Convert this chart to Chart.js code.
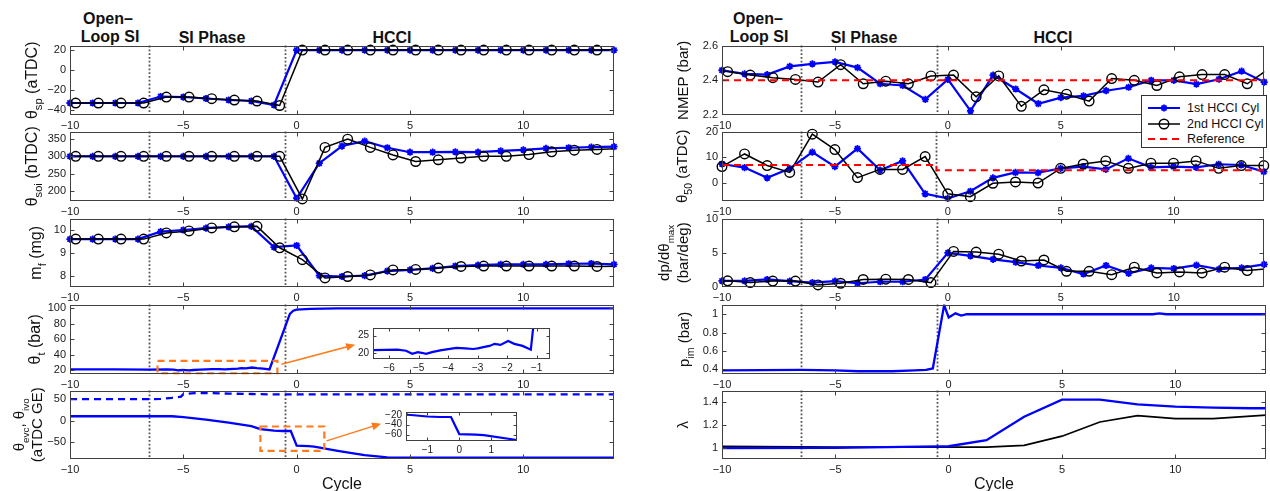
<!DOCTYPE html>
<html><head><meta charset="utf-8">
<script src="https://cdn.jsdelivr.net/npm/chart.js@4.4.1/dist/chart.umd.min.js"></script>
<style>
html,body{margin:0;padding:0;background:#fff;}
body{width:1270px;height:491px;overflow:hidden;position:relative;font-family:"Liberation Sans",Arial,Helvetica,sans-serif;color:#111}
canvas{position:absolute}
.hdr{position:absolute;font-weight:bold;font-size:16px;line-height:1;white-space:nowrap;transform:translate(-50%,-50%)}
#legend{position:absolute;left:1141px;top:95px;width:124px;height:51px;background:#fff;border:1px solid #333;z-index:10;font-size:12.5px}
#legend .row{position:absolute;left:0;height:16px;width:100%}
#legend svg{position:absolute;left:4px;top:0}
#legend span{position:absolute;left:45px;top:0;line-height:16px;white-space:nowrap}
</style></head><body>
<div class="hdr" style="left:108px;top:19px">Open–</div>
<div class="hdr" style="left:110px;top:37px">Loop SI</div>
<div class="hdr" style="left:212px;top:38px">SI Phase</div>
<div class="hdr" style="left:392px;top:38px">HCCI</div>
<div class="hdr" style="left:758px;top:19px">Open–</div>
<div class="hdr" style="left:759px;top:37px">Loop SI</div>
<div class="hdr" style="left:864px;top:38px">SI Phase</div>
<div class="hdr" style="left:1053px;top:38px">HCCI</div>
<div id="legend">
 <div class="row" style="top:4px"><svg width="38" height="16"><line x1="2" y1="8" x2="34" y2="8" stroke="#0000ff" stroke-width="2"/><g stroke="#0000ff" stroke-width="1.8"><line x1="14.5" y1="8" x2="21.5" y2="8"/><line x1="18" y1="4.5" x2="18" y2="11.5"/><line x1="15.5" y1="5.5" x2="20.5" y2="10.5"/><line x1="15.5" y1="10.5" x2="20.5" y2="5.5"/></g></svg><span>1st HCCI Cyl</span></div>
 <div class="row" style="top:20px"><svg width="38" height="16"><line x1="2" y1="8" x2="34" y2="8" stroke="#000" stroke-width="1.5"/><circle cx="18" cy="8" r="4.8" stroke="#000" stroke-width="1.4" fill="none"/></svg><span>2nd HCCI Cyl</span></div>
 <div class="row" style="top:35px"><svg width="38" height="16"><line x1="2" y1="8" x2="34" y2="8" stroke="#ff0000" stroke-width="2" stroke-dasharray="7,5"/></svg><span>Reference</span></div>
</div>
<script>
// ---------------- DATA ----------------
const cycleTicks = [-10, -5, 0, 5, 10];
const phaseBounds = [-6.5, -0.5];
// cycle positions of the two HCCI cylinders
const cyc1 = [-10,-9,-8,-7,-6,-5,-4,-3,-2,-1,0,1,2,3,4,5,6,7,8,9,10,11,12,13,14];
const cyc2 = [-10.75,-9.75,-8.75,-7.75,-6.75,-5.75,-4.75,-3.75,-2.75,-1.75,-0.75,0.25,1.25,2.25,3.25,4.25,5.25,6.25,7.25,8.25,9.25,10.25,11.25,12.25,13.25,14.25];

// spark timing theta_sp (aTDC)
const sp1 = [-33,-33,-33,-33,-26.5,-27,-28.5,-30,-31,-35,20,20,20,20,20,20,20,20,20,20,20,20,20,20,20];
const sp2 = [-33,-33,-33,-33,-33,-27,-27,-28.7,-30,-31,-35.5,20,20,20,20,20,20,20,20,20,20,20,20,20,20,20];
// start of injection theta_soi (bTDC)
const soi1 = [300,300,300,300,300,300,300,300,300,300,178,280,330,344,325,312,312,313,312,316,319,323,325,327,328];
const soi2 = [300,300,300,300,300,300,300,300,300,300,300,176,326,350,326,304,285,290,295,300,300,305,313,318,320,323];
// fuel mass m_f (mg)
const mf1 = [9.6,9.6,9.6,9.6,9.93,10.0,10.08,10.14,10.16,9.25,9.32,8.0,7.96,8.0,8.2,8.25,8.32,8.42,8.46,8.49,8.49,8.49,8.52,8.53,8.49];
const mf2 = [9.6,9.6,9.6,9.6,9.6,9.87,9.96,10.09,10.14,10.16,9.22,8.7,7.9,7.96,8.03,8.25,8.27,8.33,8.4,8.42,8.42,8.42,8.42,8.42,8.4,8.42];
// throttle theta_t (bar)
const thtX = [-10,-8,-6.55,-5.72,-5.43,-5.22,-5.03,-4.9,-4.75,-4.55,-4.27,-4.0,-3.72,-3.43,-3.15,-3.0,-2.77,-2.6,-2.43,-2.23,-1.97,-1.76,-1.48,-1.2,-0.3,-0.15,0,0.6,1.8,5,10,14];
const thtY = [21,21,20.8,20.9,20.6,19.7,20.2,20.0,19.7,20.2,20.7,21.05,21.4,21.3,21.1,21.3,21.7,22.0,22.6,22.3,23.4,22.6,22.0,20.9,93,97,98.5,99.5,100,100,100,100];
// valve timings (aTDC GE)
const ivoX = [-10,-6.5,-6,-5.5,-5.1,-5.0,-4.5,-4,-3,-2,-1,0,14];
const ivoY = [50,50,50.5,53,56,62,64,64.5,63,62,61,61,61];
const evcX = [-10,-5.5,-5,-4,-3,-2,-1.6,-1.0,-0.62,-0.26,0,0.52,0.77,1.75,2.5,3,4,5,14];
const evcY = [10,10,8,2,-5,-13,-20,-23.5,-24.5,-24.5,-59,-60,-61,-70.5,-77,-81,-86,-87,-87];

// NMEP (bar)
const nmep1 = [2.458,2.437,2.433,2.48,2.495,2.506,2.473,2.38,2.37,2.29,2.405,2.224,2.43,2.35,2.265,2.30,2.31,2.34,2.36,2.40,2.40,2.378,2.406,2.453,2.39];
const nmep2 = [2.46,2.45,2.43,2.415,2.405,2.39,2.49,2.38,2.395,2.38,2.425,2.43,2.305,2.425,2.25,2.345,2.32,2.28,2.41,2.40,2.37,2.42,2.433,2.433,2.38,2.47];
const nmepRefX = [-10,14];
const nmepRefY = [2.4,2.4];
// CA50 theta_50 (aTDC)
const ca50_1 = [7.4,6,2,5.6,12,6.4,13.4,5,8.6,-4.2,-6,-3.2,2,4.1,4,5.7,6.4,5.3,9.6,6.1,6.4,6.1,7.3,7,4.4];
const ca50_2 = [6.4,11.3,6.8,4.1,19,13,2.1,5.3,5.3,10.3,-4.2,-5.3,-0.1,0.4,0,5.7,7.4,8.6,5.7,7.7,7.7,8.6,5.7,6.8,6.8];
const ca50RefX = [-10,-0.5,-0.5,14];
const ca50RefY = [7,7,5,5];
// max pressure rise rate (bar/deg)
const dp1 = [0.9,0.9,1.1,0.86,0.64,0.86,0.55,0.77,0.77,1.1,5,4.55,4.05,3.64,3.14,2.8,1.9,3.14,2.0,2.8,2.7,3.2,2.6,2.8,3.3];
const dp2 = [0.9,0.9,0.64,0.86,0.86,0.3,0.55,1.1,1.14,1.1,0.64,5.2,5.1,4.8,3.8,3.95,2.3,2.3,1.8,2.9,2.05,2.2,2.05,2.9,2.4,2.7];
// intake manifold pressure (bar)
const pimX = [-10,-6.5,-5,-4,-2.5,-1.5,-1,-0.7,-0.2,0,0.3,0.55,0.8,3,6,9,9.3,9.6,12,14];
const pimY = [0.39,0.395,0.39,0.38,0.38,0.39,0.395,0.41,1.1,0.965,1.01,0.985,1.0,1.0,1.0,1.0,1.01,1.0,1.0,1.0];
// lambda
const lamX1 = [-10,-5,-0.5,0,1.67,3.33,5,6.67,8.33,10,11.67,13.33,14];
const lamY1 = [0.995,0.998,1.01,1.012,1.065,1.27,1.42,1.42,1.38,1.36,1.35,1.345,1.345];
const lamX2 = [-10,-5,0,1.67,3.33,5,6.67,8.33,10,11.67,14];
const lamY2 = [1.01,1.005,1.005,1.005,1.02,1.1,1.225,1.28,1.255,1.255,1.285];

// ---------------- STYLE / HELPERS ----------------
const BLUE='#0000ff', BLACK='#000000', RED='#ff0000', ORANGE='#ff7a1a', FRAME='#404040';
const FONT='"Liberation Sans", Arial, Helvetica, sans-serif';
Chart.defaults.font.family = FONT;
Chart.defaults.color = '#1a1a1a';
const fmt = v => String(Math.round(v*1000)/1000).replace('-', '\u2212');
const zip = (xs, ys) => xs.map((x, i) => ({x, y: ys[i]}));
function inR(c){ const r=c.raw; if(!r) return false; const o=c.chart.options.scales.x; return r.x>=o.min-1e-6 && r.x<=o.max+1e-6; }
function cyl(xs, ys, which){
  const pts = zip(xs, ys);
  if (which === 1) return [
    {data:pts, borderColor:BLUE, borderWidth:2.2, pointRadius:0, order:3},
    {data:pts, showLine:false, pointStyle:'star', pointRadius:c=>inR(c)?3.6:0, pointBorderWidth:1.8, pointBorderColor:BLUE, pointBackgroundColor:BLUE, clip:8, order:2}];
  return [
    {data:pts, borderColor:BLACK, borderWidth:1.5, pointRadius:0, order:1},
    {data:pts, showLine:false, pointStyle:'circle', pointRadius:c=>inR(c)?4.8:0, pointBorderWidth:1.4, pointBorderColor:BLACK, pointBackgroundColor:'rgba(0,0,0,0)', clip:8, order:0}];
}
function line(xs, ys, color, w, dash, order){
  return {data:zip(xs,ys), borderColor:color, borderWidth:w, borderDash:dash||[], pointRadius:0, order:order||0};
}

const panelPlugin = {
  id: 'panel',
  beforeDatasetsDraw(chart, args, o){
    const {ctx, chartArea:a, scales:{x}} = chart;
    if (o.bg){ ctx.save(); ctx.fillStyle=o.bg; ctx.fillRect(a.left,a.top,a.right-a.left,a.bottom-a.top); ctx.restore(); }
    (o.vlines||[]).forEach(v=>{
      const px = Math.round(x.getPixelForValue(v))+0.5;
      ctx.save(); ctx.strokeStyle='#555555'; ctx.lineWidth=1.8; ctx.setLineDash([1.8,2]);
      ctx.beginPath(); ctx.moveTo(px,a.top); ctx.lineTo(px,a.bottom); ctx.stroke(); ctx.restore();
    });
  },
  afterDatasetsDraw(chart, args, o){
    const {ctx, scales:{x,y}} = chart;
    (o.rects||[]).forEach(r=>{
      const x0=x.getPixelForValue(r[0]), x1=x.getPixelForValue(r[1]), y0=y.getPixelForValue(r[3]), y1=y.getPixelForValue(r[2]);
      ctx.save(); ctx.strokeStyle=ORANGE; ctx.lineWidth=2.2; ctx.setLineDash([7,4.5]);
      ctx.strokeRect(x0,y0,x1-x0,y1-y0); ctx.restore();
    });
    (o.arrows||[]).forEach(r=>{
      const x0=x.getPixelForValue(r[0]), y0=y.getPixelForValue(r[1]), x1=x.getPixelForValue(r[2]), y1=y.getPixelForValue(r[3]);
      const ang=Math.atan2(y1-y0,x1-x0), L=9, W=4;
      ctx.save(); ctx.strokeStyle=ORANGE; ctx.fillStyle=ORANGE; ctx.lineWidth=1.5;
      ctx.beginPath(); ctx.moveTo(x0,y0); ctx.lineTo(x1-Math.cos(ang)*L*0.8,y1-Math.sin(ang)*L*0.8); ctx.stroke();
      ctx.beginPath(); ctx.moveTo(x1,y1);
      ctx.lineTo(x1-Math.cos(ang)*L+Math.sin(ang)*W, y1-Math.sin(ang)*L-Math.cos(ang)*W);
      ctx.lineTo(x1-Math.cos(ang)*L-Math.sin(ang)*W, y1-Math.sin(ang)*L+Math.cos(ang)*W);
      ctx.closePath(); ctx.fill(); ctx.restore();
    });
  },
  afterDraw(chart, args, o){
    const {ctx, chartArea:a, scales:{x,y}} = chart;
    const tl = o.tickLen||4;
    ctx.save(); ctx.strokeStyle=FRAME; ctx.lineWidth=1;
    const L=Math.round(a.left)+0.5, R=Math.round(a.right)-0.5, T=Math.round(a.top)+0.5, B=Math.round(a.bottom)-0.5;
    ctx.beginPath();
    x.ticks.forEach(t=>{ const p=Math.round(x.getPixelForValue(t.value))+0.5; if(p<=L+1||p>=R-1) return; ctx.moveTo(p,B); ctx.lineTo(p,B-tl); ctx.moveTo(p,T); ctx.lineTo(p,T+tl); });
    y.ticks.forEach(t=>{ const p=Math.round(y.getPixelForValue(t.value))+0.5; if(p<=T+1||p>=B-1) return; ctx.moveTo(L,p); ctx.lineTo(L+tl,p); ctx.moveTo(R,p); ctx.lineTo(R-tl,p); });
    ctx.stroke();
    ctx.strokeRect(L,T,R-L,B-T);
    ctx.restore();
    if (o.ytitle){
      const size=o.ytitle.size||15, midY=(a.top+a.bottom)/2, subK=o.ytitle.subK||0.7;
      o.ytitle.lines.forEach(Ln=>{
        ctx.save(); ctx.translate(Ln.x, midY); ctx.rotate(-Math.PI/2); ctx.fillStyle='#111'; ctx.textBaseline='alphabetic';
        const segs=Ln.segs.map(s=>{ const sub=!!s[1]; const fs=sub?size*subK:size; ctx.font=fs+'px '+FONT; return {t:s[0],sub,fs,w:ctx.measureText(s[0]).width}; });
        let px=-segs.reduce((p,s)=>p+s.w,0)/2;
        segs.forEach(s=>{ ctx.font=s.fs+'px '+FONT; ctx.fillText(s.t, px, size*0.36+(s.sub?size*0.3:0)); px+=s.w; });
        ctx.restore();
      });
    }
  }
};

function mkChart(cfg){
  const {box, area, xr, xt, yr, yt, datasets, plug, xTitle, tickFont, z} = cfg;
  const c=document.createElement('canvas');
  c.width=box.w; c.height=box.h; c.style.left=box.x+'px'; c.style.top=box.y+'px';
  if (z) c.style.zIndex=z;
  document.body.appendChild(c);
  const padTop=area.t-box.y, yW=area.l-box.x, padR=box.x+box.w-area.r, xH=box.y+box.h-area.b;
  const fs=tickFont||11;
  return new Chart(c, {
    type:'line',
    data:{datasets},
    options:{
      responsive:false, animation:false, devicePixelRatio:1, events:[],
      layout:{padding:{left:0,right:padR,top:padTop,bottom:0}},
      plugins:{legend:{display:false}, tooltip:{enabled:false}, panel:plug||{}},
      scales:{
        x:{type:'linear', min:xr[0], max:xr[1],
           afterBuildTicks:s=>{s.ticks=xt.map(v=>({value:v}));}, afterFit:s=>{s.height=xH;},
           grid:{display:false, drawTicks:false}, border:{display:false},
           ticks:{padding:fs>10?4:3, font:{size:fs}, maxRotation:0, minRotation:0, autoSkip:false, callback:v=>fmt(v)},
           title: xTitle ? {display:true, text:xTitle, font:{size:16}, color:'#111', padding:{top:0,bottom:0}} : {display:false}},
        y:{type:'linear', min:yr[0], max:yr[1],
           afterBuildTicks:s=>{s.ticks=yt.map(v=>({value:v}));}, afterFit:s=>{s.width=yW;},
           grid:{display:false, drawTicks:false}, border:{display:false},
           ticks:{padding:4, font:{size:fs}, autoSkip:false, callback:v=>fmt(v)}}
      }
    },
    plugins:[panelPlugin]
  });
}

// ---------------- LAYOUT ----------------
const XR=[-10,14];
const rows=[[45,115],[131,201],[218,287],[304,374],[390,459]];
function leftBox(i, last){ const [t,b]=rows[i]; return {box:{x:0,y:t-10,w:640,h:(last?494:b+20)-(t-10)}, area:{l:70,r:614,t,b}}; }
function rightBox(i, last){ const [t,b]=rows[i]; return {box:{x:640,y:t-10,w:630,h:(last?494:b+20)-(t-10)}, area:{l:722,r:1266,t,b}}; }

// Left column
mkChart({...leftBox(0), xr:XR, xt:cycleTicks, yr:[-45,24.5], yt:[-40,-20,0,20],
  datasets:[...cyl(cyc1,sp1,1), ...cyl(cyc2,sp2,2)],
  plug:{vlines:phaseBounds, ytitle:{size:16, lines:[{x:31, segs:[['θ'],['sp',1],[' (aTDC)']]}]}}});
mkChart({...leftBox(1), xr:XR, xt:cycleTicks, yr:[170,372], yt:[200,250,300,350],
  datasets:[...cyl(cyc1,soi1,1), ...cyl(cyc2,soi2,2)],
  plug:{vlines:phaseBounds, ytitle:{size:16, lines:[{x:31, segs:[['θ'],['soi',1],[' (bTDC)']]}]}}});
mkChart({...leftBox(2), xr:XR, xt:cycleTicks, yr:[7.5,10.5], yt:[8,9,10],
  datasets:[...cyl(cyc1,mf1,1), ...cyl(cyc2,mf2,2)],
  plug:{vlines:phaseBounds, ytitle:{size:16, lines:[{x:35, segs:[['m'],['f',1],[' (mg)']]}]}}});
mkChart({...leftBox(3), xr:XR, xt:cycleTicks, yr:[15,105], yt:[20,40,60,80,100],
  datasets:[line(thtX,thtY,BLUE,2.3)],
  plug:{vlines:phaseBounds, rects:[[-6.14,-0.85,16,32]], arrows:[[-0.67,27.7,2.58,53]],
        ytitle:{size:16, lines:[{x:34, segs:[['θ'],['t',1],[' (bar)']]}]}}});
mkChart({...leftBox(4,true), xr:XR, xt:cycleTicks, yr:[-90,70], yt:[-50,0,50], xTitle:'Cycle',
  datasets:[line(ivoX,ivoY,BLUE,2.3,[7,5]), line(evcX,evcY,BLUE,2.3)],
  plug:{vlines:phaseBounds, rects:[[-1.6,1.22,-71,-14]], arrows:[[1.32,-47.6,3.72,-7.5]],
        ytitle:{size:15, subK:0.66, lines:[{x:19, segs:[['θ'],['evc',1],[', θ'],['ivo',1]]},{x:37, segs:[['(aTDC GE)']]}]}}});

// Insets
mkChart({box:{x:335,y:318,w:225,h:62}, area:{l:373,r:550,t:325,b:359}, z:5, tickFont:10,
  xr:[-6.55,-0.55], xt:[-6,-5,-4,-3,-2,-1], yr:[18.2,27.2], yt:[20,25],
  datasets:[line(thtX,thtY,BLUE,2.2)], plug:{bg:'#ffffff', tickLen:3}});
mkChart({box:{x:368,y:402,w:157,h:58}, area:{l:406,r:517,t:409,b:441}, z:5, tickFont:10,
  xr:[-1.67,1.81], xt:[-1,0,1], yr:[-73,-14.4], yt:[-60,-40,-20],
  datasets:[line(evcX,evcY,BLUE,2.2)], plug:{bg:'#ffffff', tickLen:3}});

// Right column
mkChart({...rightBox(0), xr:XR, xt:cycleTicks, yr:[2.2,2.6], yt:[2.2,2.4,2.6],
  datasets:[...cyl(cyc1,nmep1,1), ...cyl(cyc2,nmep2,2), line(nmepRefX,nmepRefY,RED,2,[7,5],-1)],
  plug:{vlines:phaseBounds, ytitle:{lines:[{x:43, segs:[['NMEP (bar)']]}]}}});
mkChart({...rightBox(1), xr:XR, xt:cycleTicks, yr:[-7,20], yt:[0,10,20],
  datasets:[...cyl(cyc1,ca50_1,1), ...cyl(cyc1,ca50_2,2), line(ca50RefX,ca50RefY,RED,2,[7,5],-1)],
  plug:{vlines:phaseBounds, ytitle:{lines:[{x:42, segs:[['θ'],['50',1],[' (aTDC)']]}]}}});
mkChart({...rightBox(2), xr:XR, xt:cycleTicks, yr:[0,10], yt:[0,5,10],
  datasets:[...cyl(cyc1,dp1,1), ...cyl(cyc2,dp2,2)],
  plug:{vlines:phaseBounds, ytitle:{subK:0.66, lines:[{x:24, segs:[['dp/dθ'],['max',1]]},{x:43, segs:[['(bar/deg)']]}]}}});
mkChart({...rightBox(3), xr:XR, xt:cycleTicks, yr:[0.35,1.105], yt:[0.4,0.6,0.8,1],
  datasets:[line(pimX,pimY,BLUE,2.3)],
  plug:{vlines:phaseBounds, ytitle:{lines:[{x:44, segs:[['p'],['im',1],[' (bar)']]}]}}});
mkChart({...rightBox(4,true), xr:XR, xt:cycleTicks, yr:[0.9,1.5], yt:[1,1.2,1.4], xTitle:'Cycle',
  datasets:[line(lamX2,lamY2,BLACK,1.7,null,1), line(lamX1,lamY1,BLUE,2.3,null,0)],
  plug:{vlines:phaseBounds, ytitle:{lines:[{x:43, segs:[['λ']]}]}}});
</script>
</body></html>
